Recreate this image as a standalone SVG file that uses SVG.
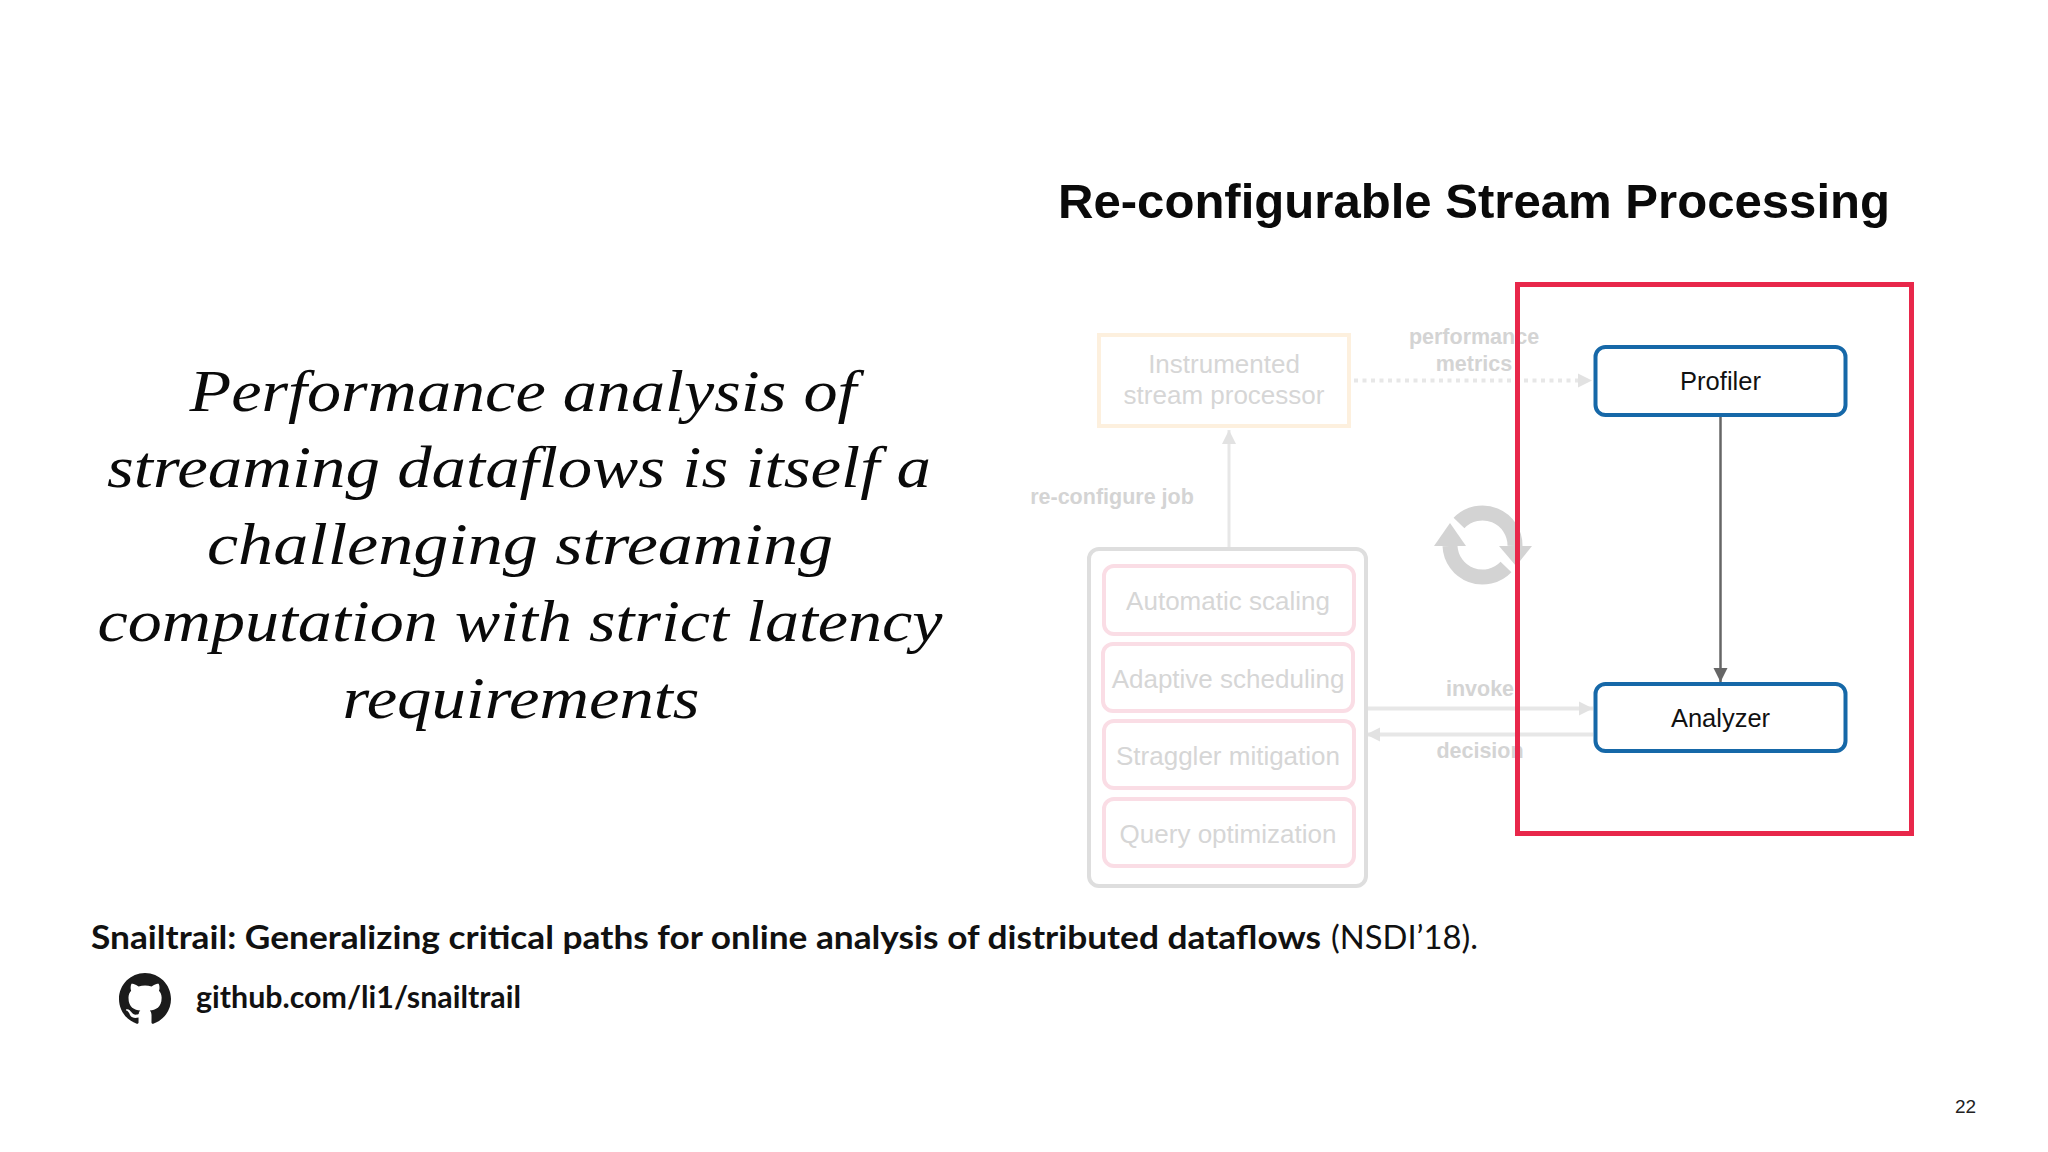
<svg xmlns="http://www.w3.org/2000/svg" width="2048" height="1152" viewBox="0 0 2048 1152">
<defs>
<style>
text{font-family:"Liberation Sans",Arial,sans-serif}
.hand{font-family:"Liberation Serif",serif;font-style:italic;font-size:60px;fill:#0a0a0a;text-anchor:middle}
.cite{font-family:Lato,"Open Sans",sans-serif;fill:#111}
.fade{fill:#d6d6d6;text-anchor:middle;font-size:26px}
.lab{fill:#d4d4d4;text-anchor:middle;font-size:21.5px;font-weight:bold}
.inner{fill:#fff;stroke:#fadde5;stroke-width:4}
.blue{fill:#fff;stroke:#1668a8;stroke-width:4}
.nodelabel{fill:#111;text-anchor:middle;font-size:25.5px}
.lg{fill:none;stroke:#e7e7e7;stroke-width:3}
</style>
<marker id="headLight" markerUnits="userSpaceOnUse" markerWidth="16" markerHeight="16" refX="14" refY="8" orient="auto"><path d="M0 1L14 8L0 15z" fill="#e2e2e2"/></marker>
<marker id="headDark" markerUnits="userSpaceOnUse" markerWidth="16" markerHeight="16" refX="14" refY="8" orient="auto"><path d="M0 1L14 8L0 15z" fill="#666"/></marker>
</defs>
<rect width="2048" height="1152" fill="#fff"/>
<g id="statement">
<text class="hand" x="523" y="411" textLength="667" lengthAdjust="spacingAndGlyphs">Performance analysis of</text>
<text class="hand" x="519" y="487" textLength="824" lengthAdjust="spacingAndGlyphs">streaming dataflows is itself a</text>
<text class="hand" x="520" y="564" textLength="626" lengthAdjust="spacingAndGlyphs">challenging streaming</text>
<text class="hand" x="520" y="641" textLength="845" lengthAdjust="spacingAndGlyphs">computation with strict latency</text>
<text class="hand" x="521" y="718" textLength="357" lengthAdjust="spacingAndGlyphs">requirements</text>
</g>
<text id="title" x="1058" y="218" font-size="49" font-weight="bold" fill="#0a0a0a" textLength="832" lengthAdjust="spacingAndGlyphs">Re-configurable Stream Processing</text>
<g id="connectors">
<path class="lg" d="M1354 380.500H1592" stroke-dasharray="4 4.500" style="stroke-width:4" marker-end="url(#headLight)"/>
<path class="lg" d="M1229 547V430" marker-end="url(#headLight)"/>
<path class="lg" d="M1368 708.500H1593" style="stroke-width:4" marker-end="url(#headLight)"/>
<path class="lg" d="M1593 734.500H1366" style="stroke-width:4" marker-end="url(#headLight)"/>
<path d="M1720.500 417V682" fill="none" stroke="#666" stroke-width="2.500" marker-end="url(#headDark)"/>
</g>
<g id="edge-labels">
<text class="lab" x="1474" y="344">performance</text>
<text class="lab" x="1474" y="371">metrics</text>
<text class="lab" x="1112" y="504">re-configure job</text>
<text class="lab" x="1480" y="696">invoke</text>
<text class="lab" x="1480" y="758">decision</text>
</g>
<g id="cycle" fill="none">
<path d="M1459 523A32.500 32.500 0 0 1 1515 546" stroke="#d3d3d3" stroke-width="15"/>
<path d="M1506 567A32.500 32.500 0 0 1 1450 546" stroke="#d3d3d3" stroke-width="15"/>
<path d="M1499 546H1532L1516 566z" fill="#d3d3d3"/>
<path d="M1434 546H1466L1450 523z" fill="#d3d3d3"/>
</g>
<g id="instrumented">
<rect x="1099" y="335" width="250" height="91" fill="#fff" stroke="#fdf0de" stroke-width="4"/>
<text class="fade" x="1224" y="372.500">Instrumented</text>
<text class="fade" x="1224" y="403.500">stream processor</text>
</g>
<g id="policies">
<rect x="1089" y="549" width="277" height="337" rx="10" fill="#fff" stroke="#dedede" stroke-width="4"/>
</g>
<g id="automatic-scaling"><rect class="inner" x="1104" y="566" width="250" height="68" rx="10"/><text class="fade" x="1228" y="609.500">Automatic scaling</text></g>
<g id="adaptive-scheduling"><rect class="inner" x="1103" y="644" width="250" height="67" rx="10"/><text class="fade" x="1228" y="687.500">Adaptive scheduling</text></g>
<g id="straggler-mitigation"><rect class="inner" x="1104" y="721" width="250" height="67" rx="10"/><text class="fade" x="1228" y="765">Straggler mitigation</text></g>
<g id="query-optimization"><rect class="inner" x="1104" y="799" width="250" height="67" rx="10"/><text class="fade" x="1228" y="843">Query optimization</text></g>
<g id="profiler"><rect class="blue" x="1595.500" y="347" width="250" height="68" rx="10"/><text class="nodelabel" x="1720.500" y="390">Profiler</text></g>
<g id="analyzer"><rect class="blue" x="1595.500" y="684" width="250" height="67" rx="10"/><text class="nodelabel" x="1720.500" y="727">Analyzer</text></g>
<rect id="highlight" x="1517.500" y="284.500" width="394" height="549" fill="none" stroke="#e8274a" stroke-width="5"/>
<g id="citation">
<text class="cite" x="91" y="949" font-size="32"><tspan font-weight="bold" textLength="1230" lengthAdjust="spacingAndGlyphs">Snailtrail: Generalizing critical paths for online analysis of distributed dataflows</tspan></text>
<text class="cite" x="1331" y="949" font-size="32" textLength="147" lengthAdjust="spacingAndGlyphs">(NSDI’18).</text>
</g>
<g id="github">
<path transform="translate(119 973) scale(3.25)" fill="#1b1b1b" d="M8 0C3.58 0 0 3.58 0 8c0 3.54 2.290 6.530 5.470 7.590.4.07.55-.17.55-.38 0-.19-.01-.82-.01-1.490-2.010.37-2.530-.49-2.690-.94-.09-.23-.48-.94-.82-1.130-.28-.15-.68-.52-.01-.53.63-.01 1.080.58 1.230.82.72 1.210 1.870.87 2.330.66.07-.52.28-.87.51-1.070-1.780-.2-3.640-.89-3.640-3.950 0-.87.31-1.590.82-2.150-.08-.2-.36-1.020.08-2.120 0 0 .67-.21 2.200.82.64-.18 1.320-.27 2-.27.68 0 1.360.09 2 .27 1.530-1.040 2.200-.82 2.200-.82.44 1.100.16 1.920.08 2.120.51.56.82 1.270.82 2.150 0 3.070-1.870 3.750-3.650 3.950.29.25.54.73.54 1.480 0 1.070-.01 1.930-.01 2.200 0 .21.15.46.55.38A8.013 8.013 0 0016 8c0-4.420-3.580-8-8-8z"/>
<text class="cite" x="196" y="1008" font-size="30" font-weight="bold" textLength="325" lengthAdjust="spacingAndGlyphs">github.com/li1/snailtrail</text>
</g>
<text id="page" x="1955" y="1113" font-size="19" fill="#222">22</text>
</svg>
